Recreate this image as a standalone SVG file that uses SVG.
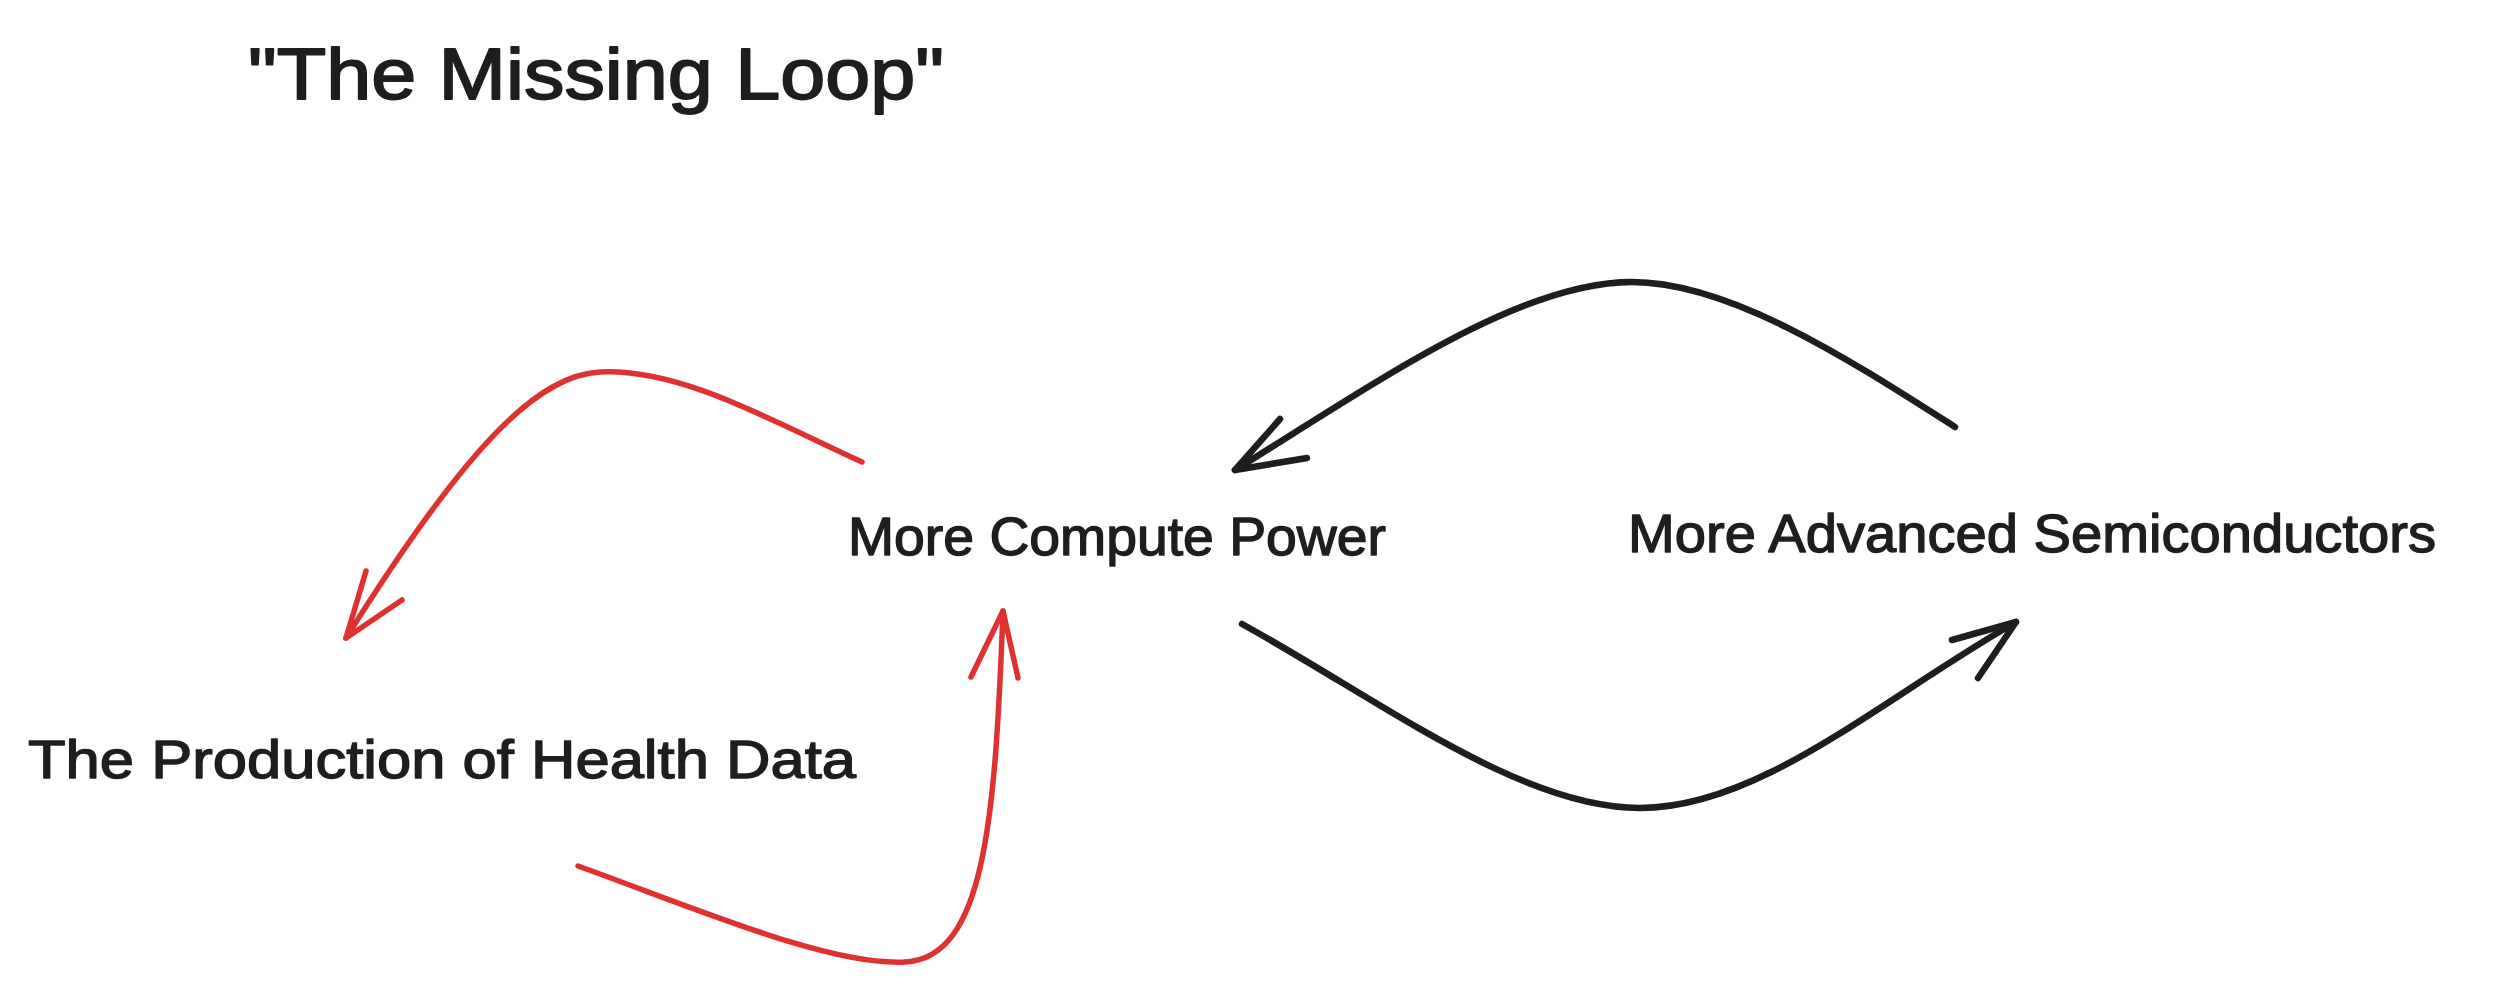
<svg xmlns="http://www.w3.org/2000/svg" width="2500" height="988" viewBox="0 0 2500 988">
<style>
.t{font-family:"Liberation Sans","DejaVu Sans",sans-serif;fill:#1e1e1e;stroke:#1e1e1e;stroke-width:1.4;stroke-linejoin:round}
.lbl{font-size:54px}
.ttl{font-size:72px;stroke-width:1.8}
.red{fill:none;stroke:#e03131;stroke-width:5.5;stroke-linecap:round;stroke-linejoin:round}
.blk{fill:none;stroke:#1e1e1e;stroke-width:6.5;stroke-linecap:round;stroke-linejoin:round}
</style>
<rect width="2500" height="988" fill="#ffffff"/>
<g id="title"><text class="t ttl" x="248" y="99" textLength="696" lengthAdjust="spacingAndGlyphs">"The Missing Loop"</text></g>
<g id="node-compute"><text class="t lbl" x="848" y="555" textLength="538" lengthAdjust="spacingAndGlyphs">More Compute Power</text></g>
<g id="node-semis"><text class="t lbl" x="1628" y="552" textLength="808" lengthAdjust="spacingAndGlyphs">More Advanced Semiconductors</text></g>
<g id="node-health"><text class="t lbl" x="28" y="778" textLength="828" lengthAdjust="spacingAndGlyphs">The Production of Health Data</text></g>
<g id="connectors">
<path class="red" d="M862,462 C770,420 680,368 600,372 C540,375 470,440 346,638"/>
<path class="red" d="M366,571 L346,638 L402,600"/>
<path class="red" d="M578,866 C700,910 830,966 905,962 C985,958 995,820 1003,611"/>
<path class="red" d="M971,677 L1003,611 L1018,678"/>
<path class="blk" d="M1955,427 C1850,360 1730,282 1632,282 C1520,282 1380,380 1235,470"/>
<path class="blk" d="M1280,419 L1235,470 L1307,458"/>
<path class="blk" d="M1242,624 C1380,700 1520,808 1640,808 C1760,808 1880,700 2016,622"/>
<path class="blk" d="M1952,640 L2016,622 L1978,678"/>
</g>
</svg>
